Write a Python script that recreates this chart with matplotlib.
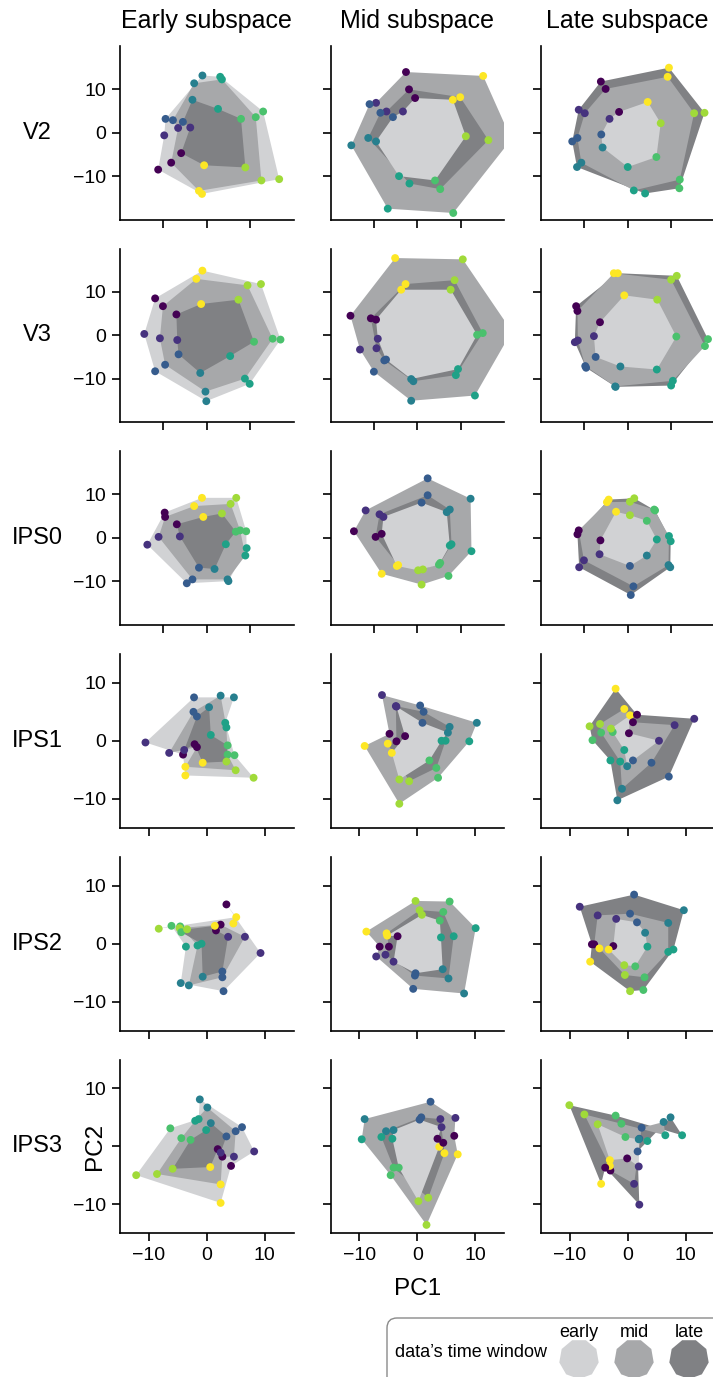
"""PCA projections of condition means per region: three time windows
(early / mid / late) projected into each window's own subspace."""

import numpy as np
import matplotlib
matplotlib.use("Agg")
import matplotlib.pyplot as plt
from matplotlib.patches import Polygon, FancyBboxPatch, RegularPolygon

plt.rcParams["font.family"] = ["Liberation Sans", "DejaVu Sans"]

REGIONS = ["V2", "V3", "IPS0", "IPS1", "IPS2", "IPS3"]
SUBSPACES = ["Early subspace", "Mid subspace", "Late subspace"]
WINDOWS = ["early", "mid", "late"]
WINDOW_COLORS = ["#d1d2d4", "#a7a8aa", "#808184"]

# each panel: [early window, mid window, late window], 8 conditions each as (PC1, PC2)
V2_EARLY = [
    [(-11.2, -8.5), (-9.8, -0.6), (-9.5, 3.2), (-1.0, 13.2), (3.1, 12.9), (13.0, 4.9), (16.7, -10.7), (-1.1, -14.1)],
    [(-8.2, -6.9), (-6.6, 1.1), (-7.8, 2.9), (-2.9, 11.4), (3.5, 12.3), (11.3, 3.6), (12.6, -11.0), (-1.8, -13.4)],
    [(-5.9, -4.7), (-3.8, 1.2), (-5.5, 2.5), (-3.3, 7.6), (2.6, 5.5), (7.9, 3.2), (8.9, -8.0), (-0.6, -7.5)],
]
V2_MID = [
    [(-0.5, 8.0), (-3.3, 4.9), (-5.6, 3.6), (-9.5, -2.0), (-4.2, -10.0), (4.1, -11.0), (11.2, -0.8), (8.2, 7.6)],
    [(-2.6, 14.0), (-9.5, 6.9), (-11.0, 6.6), (-15.2, -2.9), (-6.8, -17.5), (8.3, -18.5), (21.7, -1.5), (15.2, 13.1)],
    [(-1.9, 10.0), (-7.1, 4.9), (-8.5, 4.6), (-11.3, -1.2), (-1.8, -11.7), (5.3, -13.0), (16.4, -1.7), (9.9, 8.2)],
]
V2_LATE = [
    [(-2.0, 4.8), (-4.2, 3.2), (-6.1, -0.4), (-5.8, -3.4), (0.0, -7.9), (6.6, -5.6), (7.6, 2.2), (4.6, 7.1)],
    [(-5.1, 10.1), (-9.9, 4.5), (-11.6, -1.2), (-10.7, -6.9), (1.4, -13.3), (12.0, -10.8), (15.3, 4.5), (9.2, 12.9)],
    [(-6.2, 11.8), (-11.3, 5.3), (-12.8, -2.0), (-11.7, -7.9), (4.0, -14.0), (11.9, -12.8), (17.7, 4.6), (9.5, 15.0)],
]
V3_EARLY = [
    [(-11.9, 8.5), (-14.4, 0.3), (-11.9, -8.3), (-0.1, -15.2), (9.9, -11.2), (17.0, -1.0), (12.5, 11.8), (-1.0, 14.9)],
    [(-10.1, 6.7), (-10.8, -0.7), (-9.6, -6.8), (-0.3, -13.0), (8.8, -10.0), (15.2, -0.8), (9.4, 11.5), (-2.4, 13.0)],
    [(-7.0, 4.8), (-6.8, -1.1), (-6.5, -4.4), (-1.5, -8.7), (5.4, -4.8), (10.9, -1.5), (7.3, 8.2), (-1.3, 7.2)],
]
V3_MID = [
    [(-9.5, 3.6), (-9.1, -0.8), (-7.2, -5.6), (-1.4, -10.1), (9.4, -7.8), (13.8, 0.1), (7.7, 10.5), (-3.7, 10.5)],
    [(-15.4, 4.5), (-13.2, -3.3), (-10.0, -8.4), (-1.4, -15.1), (13.3, -13.9), (21.8, 0.9), (10.5, 17.5), (-5.1, 17.8)],
    [(-10.7, 3.9), (-9.4, -3.0), (-7.6, -5.8), (-0.9, -10.6), (8.9, -9.2), (15.1, 0.5), (8.6, 12.7), (-2.7, 11.8)],
]
V3_LATE = [
    [(-6.4, 3.0), (-7.8, -0.2), (-7.4, -5.0), (-1.7, -7.2), (6.7, -7.9), (11.2, -0.3), (6.8, 8.2), (-0.8, 9.2)],
    [(-11.6, 5.6), (-11.5, -1.2), (-9.8, -7.1), (-2.9, -11.8), (10.4, -10.5), (17.8, -2.5), (10.0, 12.8), (-3.2, 14.3)],
    [(-11.9, 6.7), (-12.2, -1.6), (-9.6, -7.5), (-2.8, -11.9), (10.0, -11.6), (18.5, -0.9), (11.3, 13.7), (-2.3, 14.3)],
]
IPS0_EARLY = [
    [(-9.7, 5.8), (-13.7, -1.6), (-4.6, -10.5), (5.0, -10.0), (9.2, -2.4), (9.1, 1.5), (6.8, 9.2), (-1.1, 9.2)],
    [(-9.6, 4.8), (-11.1, 0.2), (-3.3, -9.6), (4.8, -9.6), (8.9, -4.1), (7.7, 1.7), (5.5, 7.8), (-2.9, 7.3)],
    [(-6.9, 3.1), (-6.2, 0.3), (-1.8, -6.9), (1.8, -7.2), (4.4, -1.5), (6.7, 1.4), (3.5, 5.6), (-0.8, 4.8)],
]
IPS0_MID = [
    [(-8.2, 0.9), (-7.8, 4.8), (1.0, 8.1), (6.8, 5.9), (7.5, -1.8), (5.0, -6.2), (0.2, -7.5), (-4.7, -6.5)],
    [(-14.6, 1.5), (-11.9, 6.3), (2.4, 13.7), (12.3, 9.0), (12.5, -3.1), (7.2, -8.8), (1.0, -10.8), (-8.2, -8.3)],
    [(-9.6, 0.2), (-8.7, 5.4), (2.4, 9.8), (7.5, 6.5), (7.9, -1.5), (5.3, -5.8), (1.3, -7.3), (-4.4, -6.3)],
]
IPS0_LATE = [
    [(-6.3, -0.6), (-6.5, -3.8), (0.5, -6.5), (4.4, -4.1), (6.7, -0.4), (4.4, 3.9), (0.5, 5.2), (-2.7, 6.0)],
    [(-11.3, 1.7), (-10.1, -5.2), (1.3, -11.2), (9.4, -6.3), (9.5, 0.4), (6.1, 6.5), (0.5, 8.3), (-4.8, 8.2)],
    [(-11.6, 0.8), (-11.2, -6.8), (0.7, -13.2), (9.8, -6.8), (9.9, -0.8), (6.3, 6.3), (1.5, 9.1), (-4.4, 8.8)],
]
IPS1_EARLY = [
    [(-4.1, -2.4), (-10.6, -0.3), (-2.2, 7.5), (4.7, 7.5), (3.2, 3.1), (4.8, -2.5), (8.1, -6.4), (-3.7, -6.0)],
    [(-1.7, -1.1), (-6.5, -2.1), (-2.3, 5.0), (2.4, 7.8), (3.4, 2.3), (3.6, -2.4), (5.0, -5.1), (-3.7, -4.5)],
    [(-2.1, -0.6), (-3.9, -1.6), (-1.7, 4.2), (0.4, 5.8), (0.7, 1.0), (3.6, -0.8), (3.4, -3.6), (-0.7, -3.8)],
]
IPS1_MID = [
    [(-2.1, 0.8), (-3.6, 5.9), (0.9, 3.1), (5.3, 1.4), (4.2, 0.0), (2.1, -3.4), (-3.1, -6.7), (-4.4, -2.1)],
    [(-4.8, 1.2), (-6.1, 7.9), (0.5, 6.1), (10.3, 3.1), (9.0, -0.1), (3.6, -6.4), (-3.1, -10.9), (-9.1, -0.9)],
    [(-3.6, -0.1), (-3.7, 6.0), (1.1, 5.0), (5.6, 2.4), (4.9, 0.0), (3.3, -4.7), (-1.4, -7.0), (-5.1, -0.5)],
]
IPS1_LATE = [
    [(0.2, 1.3), (5.4, 0.0), (0.9, -3.4), (-0.1, -4.4), (-0.6, -1.6), (-2.6, 1.5), (-2.9, 2.1), (0.4, 4.4)],
    [(0.9, 3.2), (8.1, 2.7), (4.1, -3.8), (-1.0, -8.3), (-1.3, -3.6), (-4.6, 1.4), (-4.8, 2.9), (-0.6, 5.5)],
    [(1.6, 4.5), (11.5, 3.8), (7.1, -6.2), (-1.8, -10.3), (-3.0, -3.4), (-6.1, 0.1), (-6.6, 2.5), (-2.1, 9.0)],
]
IPS2_EARLY = [
    [(3.4, 6.8), (9.3, -1.6), (2.9, -8.2), (-4.5, -6.8), (-3.6, -0.5), (-6.1, 3.1), (-8.3, 2.6), (5.1, 4.6)],
    [(2.4, 3.3), (6.6, 1.2), (2.7, -5.8), (-3.1, -7.2), (-1.6, -0.3), (-4.6, 3.0), (-4.7, 2.7), (4.6, 3.5)],
    [(1.6, 2.3), (3.7, 1.2), (2.7, -4.8), (-0.7, -5.7), (-0.9, 0.0), (-4.4, 2.0), (-3.4, 2.5), (1.4, 3.1)],
]
IPS2_MID = [
    [(-3.4, 1.3), (-4.1, -3.1), (-0.3, -5.1), (4.4, -4.4), (4.1, 1.1), (3.9, 4.0), (0.8, 5.0), (-5.2, 1.4)],
    [(-6.5, -0.5), (-7.1, -2.2), (-0.7, -7.8), (8.1, -8.6), (10.1, 2.7), (5.6, 7.3), (-0.3, 7.4), (-8.8, 2.1)],
    [(-4.9, -0.5), (-5.5, -1.9), (-0.4, -5.5), (5.4, -6.0), (6.3, 1.3), (4.5, 5.5), (0.4, 5.8), (-5.3, 1.8)],
]
IPS2_LATE = [
    [(-2.5, -0.4), (-2.0, 4.3), (1.6, 3.7), (3.0, 1.9), (3.4, -0.5), (1.3, -3.9), (-0.6, -3.7), (-3.3, -1.0)],
    [(-5.8, -0.1), (-5.2, 4.9), (0.4, 5.2), (7.0, 3.6), (7.0, -1.4), (2.9, -5.8), (-0.5, -5.4), (-4.9, -0.8)],
    [(-6.2, -0.1), (-8.3, 6.4), (1.1, 8.5), (9.7, 5.8), (7.9, -1.0), (2.7, -8.0), (0.4, -8.2), (-6.5, -3.1)],
]
IPS3_EARLY = [
    [(4.2, -3.4), (8.2, -0.9), (6.1, 3.3), (-1.2, 8.1), (-1.4, 4.7), (-6.3, 3.1), (-12.2, -5.0), (2.4, -9.8)],
    [(2.7, -1.8), (4.7, -1.8), (5.0, 2.6), (0.1, 6.7), (-2.0, 4.4), (-4.4, 1.4), (-8.6, -4.8), (2.4, -6.6)],
    [(1.9, -0.5), (2.4, -1.1), (3.4, 1.7), (0.7, 4.0), (-0.1, 2.8), (-2.8, 1.1), (-5.9, -3.9), (0.6, -3.6)],
]
IPS3_MID = [
    [(3.5, 1.3), (4.2, 3.3), (0.4, 4.6), (-4.1, 2.8), (-4.3, 1.3), (-3.2, -3.7), (0.2, -9.5), (3.8, -0.1)],
    [(6.4, 1.8), (6.6, 4.9), (2.3, 7.7), (-9.1, 4.7), (-9.6, 1.2), (-4.6, -5.0), (1.6, -13.6), (7.0, -1.4)],
    [(4.5, 0.6), (4.0, 4.7), (0.7, 5.0), (-5.4, 2.6), (-6.2, 1.6), (-4.1, -3.7), (1.9, -8.9), (4.7, -1.2)],
]
IPS3_LATE = [
    [(-0.1, -2.1), (1.9, -3.5), (2.0, 1.3), (1.9, 1.2), (3.4, 0.9), (-0.4, 1.6), (-5.2, 3.8), (-3.1, -2.4)],
    [(-3.0, -4.2), (1.1, -6.5), (2.4, 3.2), (6.2, 4.2), (6.5, 1.9), (-1.1, 3.9), (-7.5, 5.5), (-3.1, -3.4)],
    [(-3.9, -3.7), (2.0, -10.1), (1.7, -0.9), (7.4, 5.0), (9.4, 1.9), (-2.1, 5.3), (-10.1, 7.1), (-4.6, -6.5)],
]

PANELS = [
    [V2_EARLY, V2_MID, V2_LATE],
    [V3_EARLY, V3_MID, V3_LATE],
    [IPS0_EARLY, IPS0_MID, IPS0_LATE],
    [IPS1_EARLY, IPS1_MID, IPS1_LATE],
    [IPS2_EARLY, IPS2_MID, IPS2_LATE],
    [IPS3_EARLY, IPS3_MID, IPS3_LATE],
]
AXIS_LIMIT = [20, 20, 20, 15, 15, 15]

# figure layout, in pixels
W, H = 713, 1377
COL_LEFT = [120, 330.5, 541]
ROW_TOP = [46, 248.5, 451, 654, 857, 1059.5]
AX_SIZE = 173.5


def poly_area(pts):
    x, y = pts[:, 0], pts[:, 1]
    return 0.5 * abs(np.dot(x, np.roll(y, 1)) - np.dot(y, np.roll(x, 1)))


cond_colors = plt.cm.viridis(np.linspace(0, 1, 8))

fig = plt.figure(figsize=(W / 100, H / 100), dpi=100)

for r, region in enumerate(REGIONS):
    lim = AXIS_LIMIT[r]
    for c in range(3):
        ax = fig.add_axes([COL_LEFT[c] / W, (H - ROW_TOP[r] - AX_SIZE) / H, AX_SIZE / W, AX_SIZE / H])
        pts = [np.asarray(w, dtype=float) for w in PANELS[r][c]]
        # biggest shape goes underneath so every window stays visible
        for k in sorted(range(3), key=lambda k: -poly_area(pts[k])):
            ax.add_patch(Polygon(pts[k], closed=True, facecolor=WINDOW_COLORS[k],
                                 edgecolor="none", zorder=1))
        for k in range(3):
            ax.scatter(pts[k][:, 0], pts[k][:, 1], c=cond_colors, s=32, linewidths=0, zorder=3)

        ax.set_xlim(-lim, lim)
        ax.set_ylim(-lim, lim)
        ax.set_xticks([-10, 0, 10])
        ax.set_yticks([-10, 0, 10])
        for side in ("top", "right"):
            ax.spines[side].set_visible(False)
        for side in ("left", "bottom"):
            ax.spines[side].set_linewidth(1.2)
        ax.tick_params(direction="out", length=5.5, width=1.2, labelsize=14, pad=4.5)
        if c > 0:
            ax.set_yticklabels([])
        elif r == len(REGIONS) - 1:
            # the PC2 axis label sits where the 0 label would be
            ax.set_yticklabels(["\u221210", "", "10"])
        if r < len(REGIONS) - 1:
            ax.set_xticklabels([])
        if r == 0:
            ax.set_title(SUBSPACES[c], fontsize=18, pad=13)

# labels and legend drawn in pixel coordinates
over = fig.add_axes([0, 0, 1, 1], zorder=10)
over.set_xlim(0, W)
over.set_ylim(H, 0)
over.axis("off")

for r, region in enumerate(REGIONS):
    over.text(37, ROW_TOP[r] + AX_SIZE / 2, region, fontsize=17, ha="center", va="center")
over.text(95, ROW_TOP[-1] + AX_SIZE / 2, "PC2", fontsize=17.5, rotation=90, ha="center", va="center")
over.text(COL_LEFT[1] + AX_SIZE / 2, 1289, "PC1", fontsize=17.5, ha="center", va="center")

over.add_patch(FancyBboxPatch((387, 1318), 400, 100, boxstyle="round,pad=0,rounding_size=10",
                              facecolor="white", edgecolor="#8a8a8a", linewidth=1.0))
over.text(395, 1357, "data\u2019s time window", fontsize=13, ha="left", va="baseline")
for i, (name, color) in enumerate(zip(WINDOWS, WINDOW_COLORS)):
    cx = 579 + 55 * i
    over.text(cx, 1337, name, fontsize=13, ha="center", va="baseline")
    over.add_patch(RegularPolygon((cx, 1359), numVertices=9, radius=20,
                                  facecolor=color, edgecolor="none"))

fig.savefig("out.png", dpi=100)
